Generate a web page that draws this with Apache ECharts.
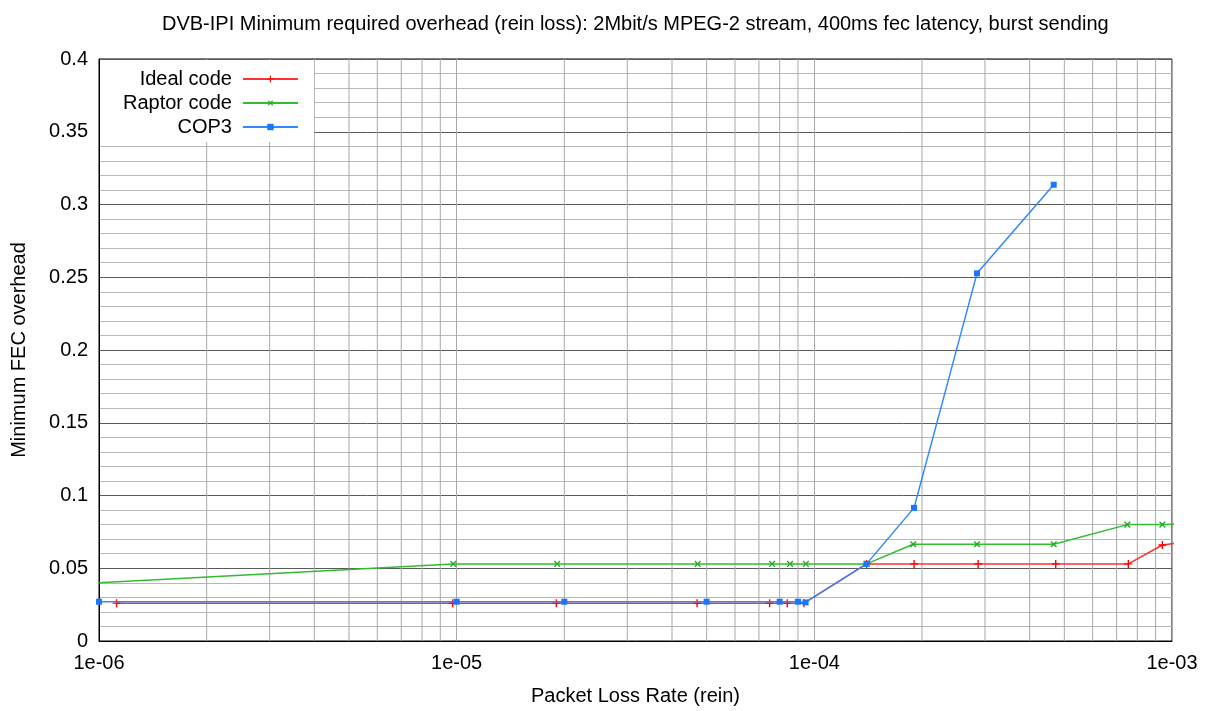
<!DOCTYPE html>
<html><head><meta charset="utf-8">
<script src="https://cdn.jsdelivr.net/npm/echarts@6/dist/echarts.min.js"></script>
<style>html,body{margin:0;padding:0;background:#fff}#c{width:1211px;height:711px}</style>
</head><body><div id="c"></div>
<script>
const titleText = 'DVB-IPI Minimum required overhead (rein loss): 2Mbit/s MPEG-2 stream, 400ms fec latency, burst sending';
const xName = 'Packet Loss Rate (rein)';
const yName = 'Minimum FEC overhead';
const seriesNames = ['Ideal code', 'Raptor code', 'COP3'];

const idealX = [1.12e-6, 9.75e-6, 1.9e-5, 4.7e-5, 7.5e-5, 8.4e-5, 9.35e-5, 1.4e-4, 1.9e-4, 2.87e-4, 4.73e-4, 7.55e-4, 9.4e-4, 1.1e-3];
const idealY = [0.026, 0.026, 0.026, 0.026, 0.026, 0.026, 0.026, 0.053, 0.053, 0.053, 0.053, 0.053, 0.066, 0.068];

const raptorX = [1e-6, 9.78e-6, 1.91e-5, 4.72e-5, 7.62e-5, 8.55e-5, 9.47e-5, 1.4e-4, 1.89e-4, 2.85e-4, 4.67e-4, 7.5e-4, 9.4e-4, 1.1e-3];
const raptorY = [0.040, 0.053, 0.053, 0.053, 0.053, 0.053, 0.053, 0.053, 0.0665, 0.0665, 0.0665, 0.080, 0.080, 0.0805];

const cop3X = [1e-6, 1.0e-5, 2.0e-5, 5.0e-5, 8.0e-5, 9.0e-5, 9.45e-5, 1.4e-4, 1.9e-4, 2.85e-4, 4.67e-4];
const cop3Y = [0.027, 0.027, 0.027, 0.027, 0.027, 0.027, 0.0265, 0.053, 0.0915, 0.2527, 0.3136];

const xTicks = ['1e-06', '1e-05', '1e-04', '1e-03'];
const yMin = 0, yMax = 0.4;

const plusPath = 'path://M3.3,0H4.7V3.3H8V4.7H4.7V8H3.3V4.7H0V3.3H3.3Z';
const FONT = '"Liberation Sans", Arial, sans-serif';
const FS = 20;

function pairs(xs, ys) { return xs.map((x, i) => [x, ys[i]]); }

// minor vertical gridlines at 2..9 × 10^k (axis decoration)
const gridSeries = [];
for (let e = -6; e < -3; e++) {
  for (let m = 2; m <= 9; m++) {
    const gx = m * Math.pow(10, e);
    gridSeries.push({
      name: '_g' + gridSeries.length, type: 'line', silent: true, z: 1,
      data: [[gx, yMin], [gx, yMax]], symbol: 'none', showSymbol: false,
      lineStyle: { color: '#a8a8a8', width: 1 }, tooltip: { show: false }
    });
  }
}

const raptorData = pairs(raptorX, raptorY).map((p, i) => i === 0 ? { value: p, symbol: 'none' } : p);

const chart = echarts.init(document.getElementById('c'));
chart.setOption({
  animation: false,
  backgroundColor: '#fff',
  textStyle: { fontFamily: FONT },
  title: {
    text: titleText, left: 157, top: 9,
    textStyle: { fontFamily: FONT, fontSize: FS, fontWeight: 'normal', color: '#000' }
  },
  legend: {
    data: seriesNames, orient: 'vertical', left: 100, top: 60, align: 'right',
    itemWidth: 55, itemHeight: 8, itemGap: 4,
    backgroundColor: '#fff', padding: [9, 15, 5, 23],
    textStyle: { fontFamily: FONT, fontSize: FS, color: '#000', padding: [0, 6, 0, 0] }
  },
  grid: { left: 99, right: 39, top: 59, bottom: 70, show: true, borderColor: '#000', borderWidth: 1, backgroundColor: 'transparent' },
  xAxis: {
    type: 'log', logBase: 10, min: 1e-6, max: 1e-3,
    name: xName, nameLocation: 'middle', nameGap: 45,
    nameTextStyle: { fontFamily: FONT, fontSize: FS, color: '#000' },
    axisLine: { show: true, lineStyle: { color: '#000' } },
    axisTick: { show: false },
    axisLabel: {
      fontFamily: FONT, fontSize: FS, color: '#000', margin: 12,
      formatter: v => { const e = Math.round(Math.log10(v)); return xTicks[e + 6]; }
    },
    splitLine: { show: true, lineStyle: { color: '#a8a8a8', width: 1 } }
  },
  yAxis: {
    type: 'value', min: yMin, max: yMax, interval: 0.05,
    name: yName, nameLocation: 'middle', nameGap: 70, nameRotate: 90,
    nameTextStyle: { fontFamily: FONT, fontSize: FS, color: '#000' },
    axisLine: { show: true, lineStyle: { color: '#000' } },
    axisTick: { show: false },
    axisLabel: { fontFamily: FONT, fontSize: FS, color: '#000', margin: 11, formatter: v => String(+v.toFixed(2)) },
    splitLine: { show: true, lineStyle: { color: '#5a5a5a', width: 1 } },
    minorTick: { show: false, splitNumber: 5 },
    minorSplitLine: { show: true, lineStyle: { color: '#b8b8b8', width: 1 } }
  },
  series: gridSeries.concat([
    {
      name: seriesNames[0], type: 'line', data: pairs(idealX, idealY), z: 3,
      color: '#ff2020', symbol: plusPath, symbolSize: 8,
      lineStyle: { width: 1.5, color: '#ff3030' }, itemStyle: { color: '#ff0000' }
    },
    {
      name: seriesNames[1], type: 'line', data: raptorData, z: 4,
      color: '#2ab52a', symbol: plusPath, symbolSize: 8, symbolRotate: 45,
      lineStyle: { width: 1.5, color: '#33bb33' }, itemStyle: { color: '#22aa22' }
    },
    {
      name: seriesNames[2], type: 'line', data: pairs(cop3X, cop3Y), z: 5,
      color: '#2a7fff', symbol: 'rect', symbolSize: 6,
      lineStyle: { width: 1.5, color: '#3388ff' }, itemStyle: { color: '#1a75ff' }
    }
  ])
});
</script></body></html>
